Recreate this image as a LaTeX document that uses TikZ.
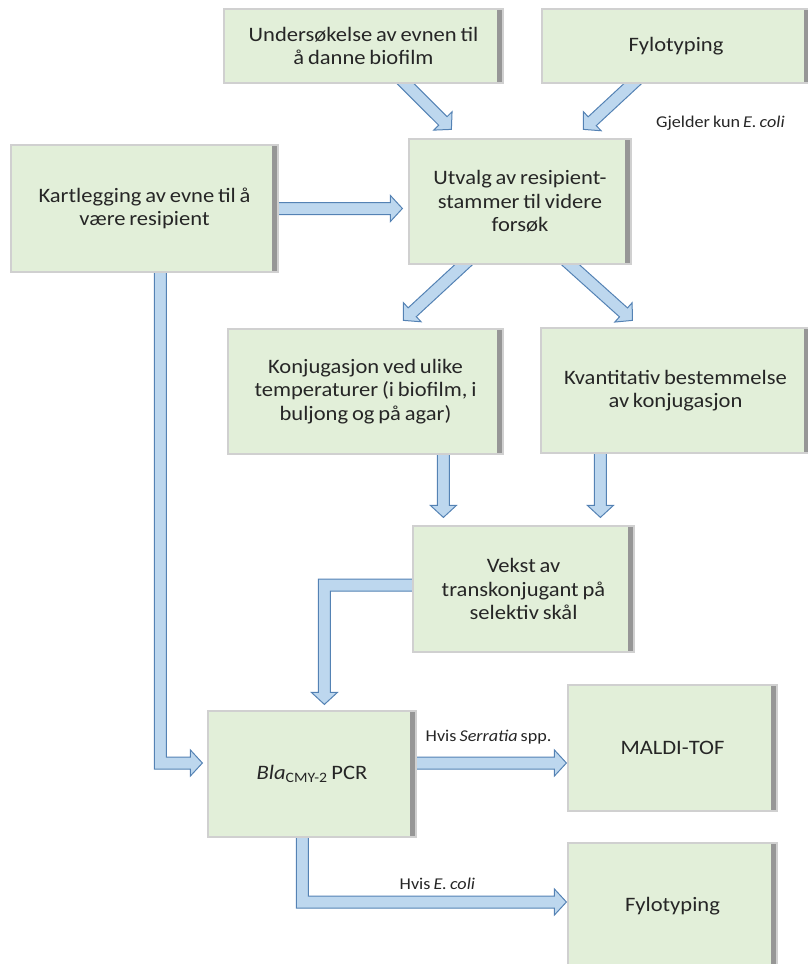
\documentclass[tikz,border=0pt]{standalone}
\usepackage{fontspec}
\setmainfont{Carlito}[FakeStretch=1.1, WordSpace=0.75]
\usetikzlibrary{calc,backgrounds}
\definecolor{boxfill}{RGB}{226,239,217}
\definecolor{boxline}{RGB}{208,208,208}
\definecolor{boxshadow}{RGB}{150,150,150}
\definecolor{arrfill}{RGB}{189,215,238}
\definecolor{arrline}{RGB}{84,130,180}
\definecolor{txt}{RGB}{38,38,38}
\tikzset{
  stepbox/.style={draw=boxline, line width=1.2pt, fill=boxfill, text=txt, align=center,
    inner sep=0pt, font=\fontsize{20.5}{23.5}\selectfont,
    path picture={\fill[boxshadow] ([xshift=-6pt]path picture bounding box.north east) rectangle (path picture bounding box.south east);}},
  barrow/.style={draw=arrline, fill=arrfill, line width=1pt, line join=miter},
  lbl/.style={text=txt, font=\fontsize{16.5}{19}\selectfont, inner sep=0pt}
}
\newcommand\blockarrow[2]{%
  \path[barrow] let \p1=(#1), \p2=(#2),
    \n1={atan2(\y2-\y1,\x2-\x1)}, \n2={veclen(\x2-\x1,\y2-\y1)} in
    [shift={(\p1)}, rotate=\n1]
    (0pt,-6pt) -- (\n2*1pt-12pt,-6pt) -- (\n2*1pt-12pt,-13pt) -- (\n2*1pt,0pt)
    -- (\n2*1pt-12pt,13pt) -- (\n2*1pt-12pt,6pt) -- (0pt,6pt) -- cycle;}
\begin{document}
\begin{tikzpicture}[x=1pt,y=-1pt]
\useasboundingbox (0,0) rectangle (808,964);
% boxes
\node[stepbox, minimum width=279pt, minimum height=74pt] (und) at (363.5,46) {Undersøkelse av evnen til\\å danne biofilm};
\node[stepbox, minimum width=268pt, minimum height=74pt] (fyl1) at (676,46) {Fylotyping};
\node[stepbox, minimum width=267pt, minimum height=127pt] (kart) at (144.5,208.5) {Kartlegging av evne til å\\være resipient};
\node[stepbox, minimum width=222pt, minimum height=125pt] (utv) at (520,201.5) {Utvalg av resipient-\\stammer til videre\\forsøk};
\node[stepbox, minimum width=275pt, minimum height=125pt] (konj) at (365.5,391.5) {Konjugasjon ved ulike\\temperaturer (i biofilm, i\\buljong og på agar)};
\node[stepbox, minimum width=269pt, minimum height=125pt] (kvant) at (675.5,390.5) {Kvantitativ bestemmelse\\av konjugasjon};
\node[stepbox, minimum width=221pt, minimum height=126pt] (vekst) at (523.5,589) {Vekst av\\transkonjugant på\\selektiv skål};
\node[stepbox, minimum width=208pt, minimum height=126pt] (bla) at (312,774) {\textit{Bla}\textsubscript{CMY-2} PCR};
\node[stepbox, minimum width=209pt, minimum height=126pt] (maldi) at (672.5,748) {MALDI-TOF};
\node[stepbox, minimum width=209pt, minimum height=126pt] (fyl2) at (672.5,906) {Fylotyping};
% labels
\node[lbl] (gj) at ($(fyl1.south west)+(179,40)$) {Gjelder kun \textit{E. coli}};
\node[lbl] (hs) at ($(bla.east)+(72,-37)$) {Hvis \textit{Serratia} spp.};
\node[lbl] (he) at ($(bla.south west)+(230,46)$) {Hvis \textit{E. coli}};
% arrow end points
\coordinate (a1s) at ($(und.south west)+(174,-8)$);
\coordinate (a1t) at ($(utv.north west)+(43,-9)$);
\coordinate (a2s) at ($(fyl1.south west)+(100,-8)$);
\coordinate (a2t) at ($(utv.north west)+(175,-9)$);
\coordinate (a3s) at ($(kart.east)+(-4,0)$);
\coordinate (a3t) at ($(utv.west |- kart.east)+(-6,0)$);
\coordinate (a4s) at ($(utv.south west)+(64,-8)$);
\coordinate (a4t) at ($(konj.north west)+(176,-8)$);
\coordinate (a5s) at ($(utv.south west)+(153,-8)$);
\coordinate (a5t) at ($(kvant.north west)+(92,-7)$);
\coordinate (a6s) at ($(konj.south west)+(216,-6)$);
\coordinate (a6t) at ($(vekst.north west)+(31,-8)$);
\coordinate (a7s) at ($(kvant.south west)+(60,-6)$);
\coordinate (a7t) at ($(vekst.north west)+(188,-8)$);
\coordinate (a8s) at ($(vekst.west)+(8,-4)$);
\coordinate (a8t) at ($(bla.north west)+(117,-6)$);
\coordinate (a9s) at ($(kart.south west)+(150,-8)$);
\coordinate (a9t) at ($(bla.west)+(-5,-11)$);
\coordinate (a10s) at ($(bla.east)+(-4,-11)$);
\coordinate (a10t) at ($(maldi.west)+(-1,15)$);
\coordinate (a11s) at ($(bla.south west)+(95,-8)$);
\coordinate (a11t) at ($(fyl2.west)+(-1,-4)$);
\begin{scope}[on background layer]
\blockarrow{a1s}{a1t}
\blockarrow{a2s}{a2t}
\blockarrow{a3s}{a3t}
\blockarrow{a4s}{a4t}
\blockarrow{a5s}{a5t}
\blockarrow{a6s}{a6t}
\blockarrow{a7s}{a7t}
\blockarrow{a10s}{a10t}
% vekst -> bla (left, then down)
\path[barrow] let \p1=(a8s), \p2=(a8t) in
  (\x1,\y1+6pt) -- (\x2-6pt,\y1+6pt) -- (\x2-6pt,\y2+12pt) -- (\x2-13pt,\y2+12pt)
  -- (\x2,\y2) -- (\x2+13pt,\y2+12pt) -- (\x2+6pt,\y2+12pt) -- (\x2+6pt,\y1-6pt)
  -- (\x1,\y1-6pt) -- cycle;
% kart -> bla (down, then right)
\path[barrow] let \p1=(a9s), \p2=(a9t) in
  (\x1-6pt,\y1) -- (\x1-6pt,\y2-6pt) -- (\x2-12pt,\y2-6pt) -- (\x2-12pt,\y2-13pt)
  -- (\x2,\y2) -- (\x2-12pt,\y2+13pt) -- (\x2-12pt,\y2+6pt) -- (\x1+6pt,\y2+6pt)
  -- (\x1+6pt,\y1) -- cycle;
% bla -> fyl2 (down, then right)
\path[barrow] let \p1=(a11s), \p2=(a11t) in
  (\x1-6pt,\y1) -- (\x1-6pt,\y2-6pt) -- (\x2-12pt,\y2-6pt) -- (\x2-12pt,\y2-13pt)
  -- (\x2,\y2) -- (\x2-12pt,\y2+13pt) -- (\x2-12pt,\y2+6pt) -- (\x1+6pt,\y2+6pt)
  -- (\x1+6pt,\y1) -- cycle;
\end{scope}
\end{tikzpicture}
\end{document}
